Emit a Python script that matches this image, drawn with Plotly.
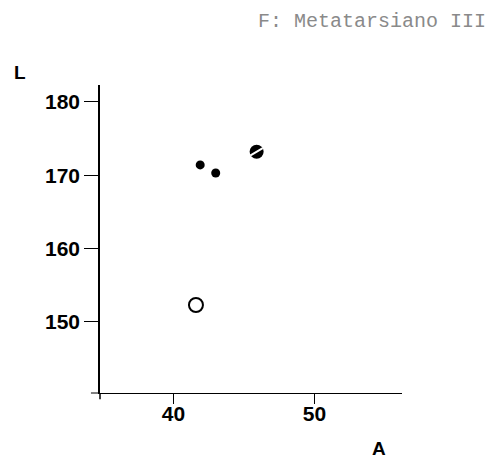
import plotly.graph_objects as go

# Data
filled_x = [41.9, 43.0]
filled_y = [171.4, 170.3]
hatched_x = [45.9]
hatched_y = [173.2]
open_x = [41.6]
open_y = [152.3]

x_ticks = [40, 50]
y_ticks = [150, 160, 170, 180]

# page body has an 8px margin; compensate
OFF = 8
W, H = 499 - OFF, 462 - OFF
L_, R_, T_, B_ = 100 - OFF, W - (402 - OFF), 85 - OFF, H - (393 - OFF)

fig = go.Figure()

fig.add_trace(go.Scatter(x=filled_x, y=filled_y, mode="markers",
                         marker=dict(symbol="circle", size=9, color="black"),
                         showlegend=False, hoverinfo="skip"))
fig.add_trace(go.Scatter(x=hatched_x, y=hatched_y, mode="markers",
                         marker=dict(symbol="circle", size=14, color="black"),
                         showlegend=False, hoverinfo="skip"))
fig.add_trace(go.Scatter(x=hatched_x, y=hatched_y, mode="markers",
                         marker=dict(symbol="line-ne", size=10, angle=15, color="white",
                                     line=dict(color="white", width=2)),
                         showlegend=False, hoverinfo="skip"))
fig.add_trace(go.Scatter(x=open_x, y=open_y, mode="markers",
                         marker=dict(symbol="circle-open", size=14, color="black",
                                     line=dict(color="black", width=2)),
                         showlegend=False, hoverinfo="skip"))

tickfont = dict(family="Liberation Sans", size=21, color="black", weight="bold")

fig.update_xaxes(range=[34.8, 56.2], tickvals=x_ticks, ticktext=[str(v) for v in x_ticks],
                 showline=True, linecolor="black", linewidth=1,
                 ticks="outside", ticklen=10, tickcolor="black", tickwidth=1,
                 ticklabelstandoff=-8,
                 showgrid=False, zeroline=False, tickfont=tickfont, automargin=False)
fig.update_yaxes(range=[140.3, 182.3], tickvals=y_ticks, ticktext=[str(v) for v in y_ticks],
                 showline=True, linecolor="black", linewidth=1.5,
                 ticks="outside", ticklen=14, tickcolor="black", tickwidth=1,
                 showgrid=False, zeroline=False, tickfont=tickfont, automargin=False)

# small overshoots of the axis lines past their crossing
fig.add_shape(type="line", xref="x domain", yref="y domain",
              x0=-0.03, x1=0, y0=0, y1=0, line=dict(color="black", width=1))
fig.add_shape(type="line", xref="x domain", yref="y domain",
              x0=0, x1=0, y0=-0.02, y1=0, line=dict(color="black", width=1.5))

fig.update_layout(
    width=W, height=H,
    margin=dict(l=L_, r=R_, t=T_, b=B_),
    paper_bgcolor="white", plot_bgcolor="white",
    annotations=[
        dict(text="<b>L</b>", x=20, y=72, xref="paper", yref="paper",
             xanchor="center", yanchor="middle",
             showarrow=False, font=dict(family="Liberation Sans", size=19, color="black")),
        dict(text="<b>A</b>", x=379, y=448, xref="paper", yref="paper",
             xanchor="center", yanchor="middle",
             showarrow=False, font=dict(family="Liberation Sans", size=19, color="black")),
        dict(text="F: Metatarsiano III", x=256, y=22, xref="paper", yref="paper",
             xanchor="left", yanchor="middle", showarrow=False,
             font=dict(family="Liberation Mono", size=20, color="#8a8a8a")),
    ],
)

# convert window pixel positions of annotations to paper coordinates
pw = W - L_ - R_
ph = H - T_ - B_
for a in fig.layout.annotations:
    px, py = a.x - OFF, a.y - OFF
    a.x = (px - L_) / pw
    a.y = 1 - (py - T_) / ph

fig.write_html("out.html")
